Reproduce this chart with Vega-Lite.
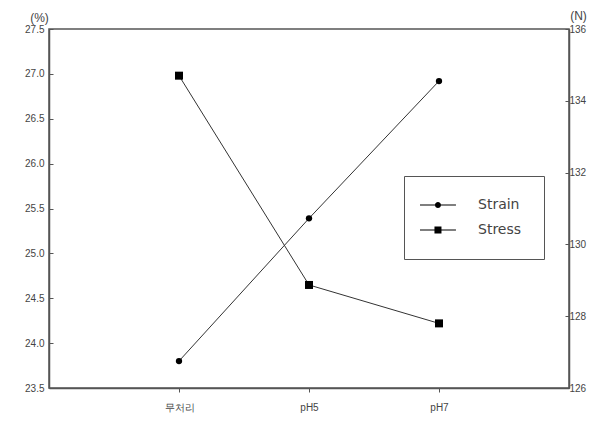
{
  "$schema": "https://vega.github.io/schema/vega-lite/v6.json",
  "width": 520,
  "height": 359,
  "autosize": "none",
  "padding": {"left": 49, "top": 29, "right": 33, "bottom": 33},
  "background": "white",
  "config": {
    "view": {"stroke": "#555", "strokeWidth": 1.5},
    "font": "Liberation Sans",
    "axis": {"labelFont": "Liberation Sans", "labelColor": "#444", "labelFontSize": 10, "domainColor": "#555", "domainWidth": 1.5, "tickColor": "#555", "grid": false, "titleFont": "Liberation Sans", "titleFontWeight": "normal", "titleColor": "#444"}
  },
  "data": {"values": [
    {"cond": "무처리", "strain": 23.8, "stress": 134.7},
    {"cond": "pH5", "strain": 25.39, "stress": 128.87},
    {"cond": "pH7", "strain": 26.92, "stress": 127.8}
  ]},
  "encoding": {
    "x": {"field": "cond", "type": "nominal", "sort": null, "scale": {"type": "point", "padding": 1},
      "axis": {"title": null, "labelAngle": 0, "tickSize": 4, "labelPadding": 10, "domain": true}}
  },
  "layer": [
    {
      "encoding": {"y": {"field": "strain", "type": "quantitative",
        "scale": {"domain": [23.5, 27.5], "nice": false, "zero": false},
        "axis": {"orient": "left", "values": [23.5, 24, 24.5, 25, 25.5, 26, 26.5, 27, 27.5], "format": ".1f", "tickSize": -4, "labelPadding": 9, "title": "(%)", "titleAngle": 0, "titleX": -10, "titleY": -12, "titleAlign": "center", "titleBaseline": "middle", "titleFontSize": 12}}},
      "layer": [
        {"mark": {"type": "line", "color": "#333", "strokeWidth": 1}},
        {"mark": {"type": "point", "filled": true, "shape": "circle", "size": 40, "opacity": 1, "color": "black"}},
        {"mark": {"type": "point", "filled": true, "color": "black", "opacity": 0, "size": 10},
         "encoding": {"shape": {"datum": "Strain", "type": "nominal",
           "scale": {"domain": ["Strain", "Stress"], "range": ["M-1.86,-0.07H3.28V0.07H-1.86ZM0.28,0A0.43,0.43 0 1,1 1.14,0A0.43,0.43 0 1,1 0.28,0Z", "M-1.86,-0.07H3.28V0.07H-1.86ZM0.21,-0.5H1.21V0.5H0.21Z"]},
           "legend": {"title": null, "orient": "none", "legendX": 355, "legendY": 147,
             "padding": 22, "strokeColor": "#555", "fillColor": "white",
             "symbolSize": 196, "symbolOpacity": 1, "symbolFillColor": "black", "symbolStrokeColor": "transparent", "symbolStrokeWidth": 0,
             "labelOffset": 38, "labelFontSize": 14, "labelColor": "#444", "labelFont": "DejaVu Sans",
             "rowPadding": 11}}}}
      ]
    },
    {
      "encoding": {"y": {"field": "stress", "type": "quantitative",
        "scale": {"domain": [126, 136], "nice": false, "zero": false},
        "axis": {"orient": "right", "values": [126, 128, 130, 132, 134, 136], "tickSize": -4, "labelPadding": 4, "title": "(N)", "titleAngle": 0, "titleX": 9, "titleY": -14, "titleAlign": "center", "titleBaseline": "middle", "titleFontSize": 12}}},
      "layer": [
        {"mark": {"type": "line", "color": "#333", "strokeWidth": 1}},
        {"mark": {"type": "point", "filled": true, "shape": "square", "size": 64, "opacity": 1, "color": "black"}},
        {"mark": {"type": "point", "filled": true, "color": "black", "opacity": 0, "size": 10},
         "encoding": {"shape": {"datum": "Stress", "type": "nominal"}}}
      ]
    }
  ],
  "resolve": {"scale": {"y": "independent"}}
}
